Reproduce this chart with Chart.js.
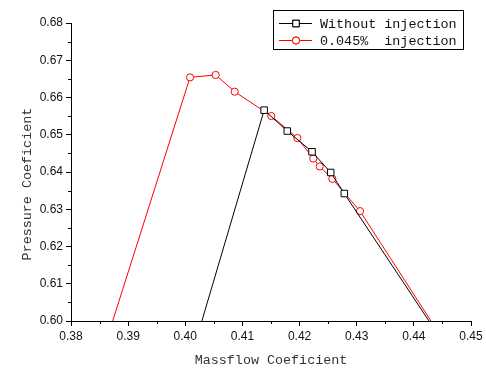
<!DOCTYPE html>
<html>
<head>
<meta charset="utf-8">
<script src="https://cdn.jsdelivr.net/npm/chart.js@4/dist/chart.umd.min.js"></script>
<style>
  html, body { margin: 0; padding: 0; background: #fff; }
</style>
</head>
<body>
<canvas id="pressureChart" width="486" height="368"></canvas>
<script>
// Values
const withoutLabel = 'Without injection';
const withoutX = [0.4029, 0.4138, 0.41785, 0.42218, 0.42545, 0.42783, 0.44265];
const withoutY = [0.600, 0.6566, 0.6510, 0.64543, 0.63987, 0.63422, 0.600];

const injLabel = '0.045%  injection';
const injX = [0.38729, 0.40083, 0.40532, 0.40865, 0.41505, 0.41961, 0.42241, 0.42352, 0.42573, 0.43058, 0.4430];
const injY = [0.600, 0.6654, 0.66605, 0.66156, 0.65503, 0.64911, 0.64363, 0.64148, 0.63817, 0.62949, 0.600];

const xMin = 0.38, xMax = 0.45, xStep = 0.01;
const yMin = 0.60, yMax = 0.68, yStep = 0.01;

const monoFont = '"Liberation Mono", monospace';
const sansFont = '"Liberation Sans", Arial, sans-serif';

const toPoints = (xs, ys) => xs.map((x, i) => ({ x: x, y: ys[i] }));
// no marker where the curve leaves the plot through the bottom axis
const radii = (ys, r) => ys.map(y => (y <= yMin ? 0 : r));

// minor ticks halfway between the labelled ones
const minorTicks = {
    id: 'minorTicks',
    afterDraw(chart) {
        const ctx = chart.ctx;
        const xs = chart.scales.x, ys = chart.scales.y;
        ctx.save();
        ctx.strokeStyle = '#000';
        ctx.lineWidth = 1;
        ctx.beginPath();
        for (let v = xMin + xStep / 2; v < xMax; v += xStep) {
            const px = Math.round(xs.getPixelForValue(v)) + 0.5;
            ctx.moveTo(px, xs.top);
            ctx.lineTo(px, xs.top + 3);
        }
        for (let v = yMin + yStep / 2; v < yMax; v += yStep) {
            const py = Math.round(ys.getPixelForValue(v)) + 0.5;
            ctx.moveTo(ys.right, py);
            ctx.lineTo(ys.right - 3, py);
        }
        ctx.stroke();
        ctx.restore();
    }
};

// boxed legend with line + marker samples
const boxLegend = {
    id: 'boxLegend',
    afterDraw(chart) {
        const ctx = chart.ctx;
        const area = chart.chartArea;
        const right = area.right - 8, top = area.top - 13;
        const w = 190, h = 39;
        const left = right - w;
        ctx.save();
        ctx.strokeStyle = '#000';
        ctx.lineWidth = 1;
        ctx.strokeRect(left + 0.5, top + 0.5, w, h);
        chart.data.datasets.forEach((ds, i) => {
            const y = top + 13 + i * 17;
            ctx.strokeStyle = ds.borderColor;
            ctx.beginPath();
            ctx.moveTo(left + 6, y + 0.5);
            ctx.lineTo(left + 39, y + 0.5);
            ctx.stroke();
            Chart.helpers.drawPoint(ctx, {
                pointStyle: ds.pointStyle,
                radius: ds.legendRadius,
                borderWidth: 1
            }, left + 23, y + 0.5);
            ctx.fillStyle = '#fff';
            ctx.strokeStyle = ds.borderColor;
            ctx.fill();
            ctx.stroke();
            ctx.fillStyle = '#111';
            ctx.font = '13.4px ' + monoFont;
            ctx.textBaseline = 'middle';
            ctx.fillText(ds.label, left + 47, y + 1);
        });
        ctx.restore();
    }
};

const ctx = document.getElementById('pressureChart').getContext('2d');
new Chart(ctx, {
    type: 'scatter',
    data: {
        datasets: [{
            label: withoutLabel,
            data: toPoints(withoutX, withoutY),
            showLine: true,
            borderColor: '#000',
            backgroundColor: '#fff',
            borderWidth: 1,
            pointStyle: 'rect',
            pointRadius: radii(withoutY, 4.6),
            pointBorderWidth: 1,
            pointBackgroundColor: '#fff',
            pointBorderColor: '#000',
            legendRadius: 4.6
        }, {
            label: injLabel,
            data: toPoints(injX, injY),
            showLine: true,
            borderColor: '#ff0000',
            backgroundColor: '#fff',
            borderWidth: 1,
            pointStyle: 'circle',
            pointRadius: radii(injY, 3.6),
            pointBorderWidth: 1,
            pointBackgroundColor: '#fff',
            pointBorderColor: '#ff0000',
            legendRadius: 3.6
        }]
    },
    options: {
        responsive: false,
        animation: false,
        layout: { padding: { left: 0, right: 15, top: 23, bottom: 0 } },
        plugins: {
            legend: { display: false },
            tooltip: { enabled: false }
        },
        scales: {
            x: {
                type: 'linear',
                min: xMin,
                max: xMax,
                afterFit: scale => { scale.height = 47; },
                ticks: {
                    stepSize: xStep,
                    color: '#111',
                    padding: 3,
                    maxRotation: 0,
                    font: { family: sansFont, size: 12 },
                    callback: v => v.toFixed(2)
                },
                grid: {
                    drawOnChartArea: false,
                    tickLength: 5,
                    tickColor: '#000'
                },
                border: { color: '#000', width: 1 },
                title: {
                    display: true,
                    text: 'Massflow Coeficient',
                    color: '#333',
                    font: { family: monoFont, size: 13.4 },
                    padding: { top: 0, bottom: 0 }
                }
            },
            y: {
                type: 'linear',
                min: yMin,
                max: yMax,
                afterFit: scale => { scale.width = 71; },
                ticks: {
                    stepSize: yStep,
                    color: '#111',
                    padding: 3,
                    font: { family: sansFont, size: 12 },
                    callback: v => v.toFixed(2)
                },
                grid: {
                    drawOnChartArea: false,
                    tickLength: 5,
                    tickColor: '#000'
                },
                border: { color: '#000', width: 1 },
                title: {
                    display: true,
                    text: 'Pressure Coeficient   ',
                    color: '#333',
                    font: { family: monoFont, size: 13.4 },
                    padding: { top: 19, bottom: 0 }
                }
            }
        }
    },
    plugins: [minorTicks, boxLegend]
});
</script>
</body>
</html>
